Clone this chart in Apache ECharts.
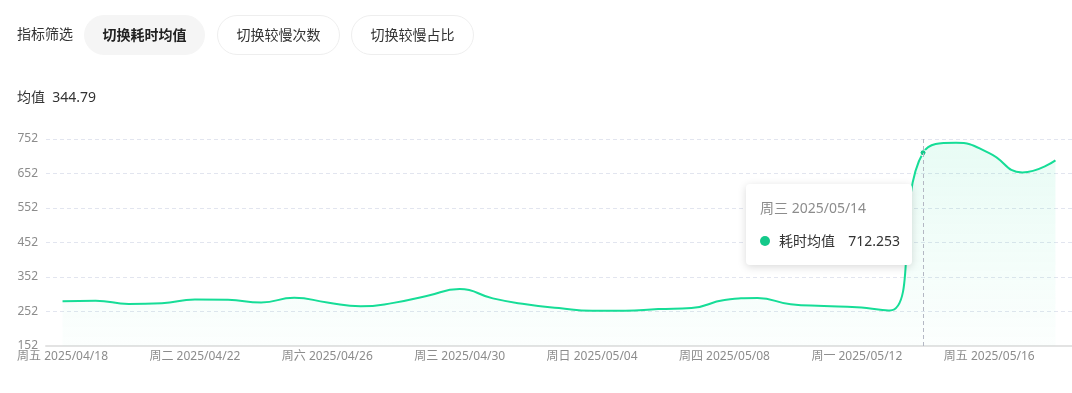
<!DOCTYPE html>
<html>
<head>
<meta charset="utf-8">
<script src="https://cdn.jsdelivr.net/npm/echarts@6/dist/echarts.min.js"></script>
<style>
  html, body { margin: 0; padding: 0; background: #fff; width: 1072px; height: 393px; overflow: hidden;
    font-family: "Noto Sans", "Noto Sans CJK SC", sans-serif; }
  #chart { position: absolute; left: 0; top: 0; width: 1072px; height: 393px; }
  .hdr { position: absolute; left: 0; top: 0; width: 1072px; height: 120px; z-index: 2; pointer-events: none; }
  .lbl { position: absolute; left: 17px; top: 24px; font-size: 14px; line-height: 20px; color: #333; }
  .btn { position: absolute; top: 15px; height: 40px; box-sizing: border-box; border-radius: 20px;
    font-size: 14px; line-height: 38px; text-align: center; color: #333; border: 1px solid #eeeeee; background: #fff; }
  .btn.active { background: #f5f5f5; border-color: #f5f5f5; font-weight: bold; color: #222; }
  .avg { position: absolute; left: 17px; top: 87px; font-size: 14px; line-height: 20px; color: #333; }
</style>
</head>
<body>
<div id="chart"></div>
<div class="hdr">
  <div class="lbl">指标筛选</div>
  <div class="btn active" style="left:84px;width:121px;">切换耗时均值</div>
  <div class="btn" style="left:217px;width:123px;">切换较慢次数</div>
  <div class="btn" style="left:351px;width:123px;">切换较慢占比</div>
  <div class="avg">均值&nbsp;&nbsp;344.79</div>
</div>
<script>
const weekdays = ['周五','周六','周日','周一','周二','周三','周四','周五','周六','周日','周一','周二','周三','周四','周五','周六','周日','周一','周二','周三','周四','周五','周六','周日','周一','周二','周三','周四','周五','周六','周日'];
const dates = ['2025/04/18','2025/04/19','2025/04/20','2025/04/21','2025/04/22','2025/04/23','2025/04/24','2025/04/25','2025/04/26','2025/04/27','2025/04/28','2025/04/29','2025/04/30','2025/05/01','2025/05/02','2025/05/03','2025/05/04','2025/05/05','2025/05/06','2025/05/07','2025/05/08','2025/05/09','2025/05/10','2025/05/11','2025/05/12','2025/05/13','2025/05/14','2025/05/15','2025/05/16','2025/05/17','2025/05/18'];
const avgTime = [282,283,274,276,287,286,278,292,278,267,277,297,317,290,273,262,254,254,259,262,285,291,273,268,264,255,712.253,741,711,655,690];
const seriesName = '耗时均值';
const yTicks = { min: 152, max: 752, interval: 100 };
const tipIndex = 26;

const categories = dates.map((d, i) => weekdays[i] + ' ' + d);
const green = '#14C98A';
const FONT = '"Noto Sans", "Noto Sans CJK SC", sans-serif';

const chart = echarts.init(document.getElementById('chart'), null, { renderer: 'canvas' });
chart.setOption({
  animation: false,
  textStyle: { fontFamily: FONT },
  grid: { left: 46, right: 0, top: 139, bottom: 47, containLabel: false },
  tooltip: {
    trigger: 'axis',
    alwaysShowContent: true,
    transitionDuration: 0,
    backgroundColor: '#fff',
    borderWidth: 0,
    padding: [14, 12, 14, 14],
    extraCssText: 'box-shadow:0 2px 8px rgba(0,0,0,0.15);border-radius:4px;width:140px;',
    position: function () { return [746, 184]; },
    axisPointer: { type: 'line', lineStyle: { color: '#b4b8c4', type: [4, 3], width: 1 } },
    formatter: function (params) {
      const p = params[0];
      const ff = 'font-family:Noto Sans,Noto Sans CJK SC,sans-serif;';
      return '<div style="font-size:14px;color:#8c8c8c;line-height:20px;margin-bottom:13px;' + ff + '">' + p.name + '</div>' +
        '<div style="font-size:14px;color:#333;line-height:20px;display:flex;align-items:center;' + ff + '">' +
        '<span style="display:inline-block;width:10px;height:10px;border-radius:5px;background:' + green + ';margin-right:9px"></span>' +
        '<span>' + p.seriesName + '</span><span style="margin-left:auto">' + p.value + '</span></div>';
    }
  },
  xAxis: {
    type: 'category',
    data: categories,
    boundaryGap: true,
    axisLine: { lineStyle: { color: '#e3e3e3', width: 2 } },
    axisTick: { alignWithLabel: true, interval: 3, length: 4, lineStyle: { color: '#dcdcdc' } },
    axisLabel: { interval: 3, color: '#8c8c8c', fontSize: 12, margin: 5 },
    splitLine: { show: false }
  },
  yAxis: {
    type: 'value',
    min: yTicks.min, max: yTicks.max, interval: yTicks.interval,
    axisLine: { show: false },
    axisTick: { show: false },
    axisLabel: { color: '#8c8c8c', fontSize: 12, margin: 8 },
    splitLine: { lineStyle: { color: '#e2e5ef', type: [4, 3], width: 1 } }
  },
  series: [{
    name: seriesName,
    type: 'line',
    data: avgTime,
    smooth: true,
    showSymbol: false,
    symbol: 'circle',
    symbolSize: 6,
    lineStyle: { color: green, width: 2 },
    itemStyle: { color: green, borderColor: '#fff', borderWidth: 1 },
    areaStyle: {
      color: new echarts.graphic.LinearGradient(0, 0, 0, 1, [
        { offset: 0, color: 'rgba(20,201,138,0.14)' },
        { offset: 1, color: 'rgba(20,201,138,0.02)' }
      ])
    },
    emphasis: { scale: false, lineStyle: { width: 2 } }
  }]
});
chart.dispatchAction({ type: 'showTip', seriesIndex: 0, dataIndex: tipIndex });
</script>
</body>
</html>
